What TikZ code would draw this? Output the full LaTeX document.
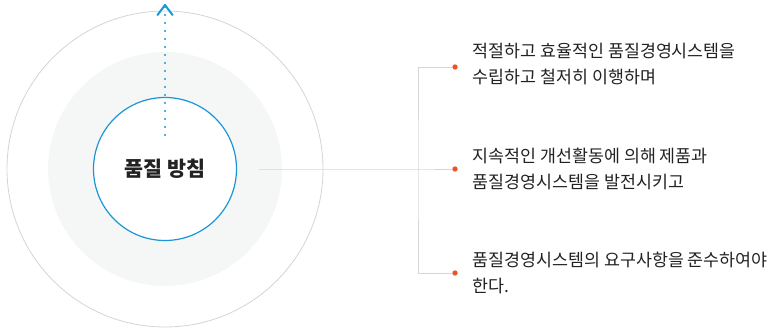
\documentclass[tikz,border=0pt]{standalone}
\usepackage{fontspec}
\setmainfont{Noto Sans CJK KR}
\usetikzlibrary{positioning,arrows.meta}
\definecolor{policyblue}{RGB}{27,150,212}
\definecolor{ringgray}{RGB}{212,212,212}
\definecolor{softgray}{RGB}{245,246,246}
\definecolor{linkgray}{RGB}{214,214,214}
\definecolor{dotorange}{RGB}{234,84,40}
\definecolor{inkdark}{RGB}{34,34,34}
\tikzset{
  goal/.style={anchor=west, inner sep=0pt, align=left, text=inkdark,
    font=\fontsize{13pt}{19.5pt}\selectfont},
  bullet/.style={circle, fill=dotorange, inner sep=0pt, minimum size=4pt},
  link/.style={draw=linkgray, line width=0.6pt}
}
\begin{document}
\begin{tikzpicture}[x=0.75pt, y=0.75pt, line cap=round, line join=round]
  \useasboundingbox (0,0) rectangle (778,-328);
  % rings
  \fill[softgray] (165,-169) circle (117);
  \draw[ringgray, line width=0.6pt] (165,-169) circle (158);
  \draw[policyblue, fill=white, line width=0.9pt] (165,-169) circle (71.5);
  \node[font=\fontsize{15.5pt}{17pt}\selectfont\bfseries, text=inkdark] (policy) at (165,-169) {품질 방침};
  % upward arrow
  \coordinate (rise) at (165,-135);
  \coordinate (peak) at (165,-5);
  \draw[policyblue, line width=1.8pt, dash pattern=on 0pt off 6pt] (rise) -- (peak);
  \draw[policyblue, line width=1.5pt] (157.5,-15) -- (peak) -- (172.5,-15);
  % branches
  \coordinate (hub) at (259,-169);
  \coordinate (fork) at (418,-169);
  \node[bullet] (d1) at (455,-67) {};
  \node[bullet] (d2) at (455,-169) {};
  \node[bullet] (d3) at (455,-273) {};
  \draw[link] (hub) -- (fork) -- (d2);
  \draw[link] (d1) -| (fork) |- (d3);
  % texts
  \node[goal, right=11pt of d1, yshift=2pt] (g1) {적절하고 효율적인 품질경영시스템을\\수립하고 철저히 이행하며};
  \node[goal, right=11pt of d2] (g2) {지속적인 개선활동에 의해 제품과\\품질경영시스템을 발전시키고};
  \node[goal, right=11pt of d3] (g3) {품질경영시스템의 요구사항을 준수하여야\\한다.};
\end{tikzpicture}
\end{document}
